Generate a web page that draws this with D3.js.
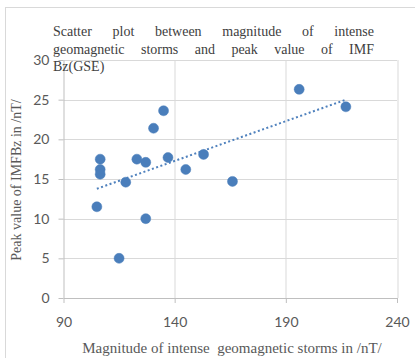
<!DOCTYPE html>
<html>
<head>
<meta charset="utf-8">
<script src="https://cdn.jsdelivr.net/npm/d3@7"></script>
<style>
  body { margin: 0; background: #fff; }
  svg { display: block; }
</style>
</head>
<body>
<div id="chart"></div>
<script>
// magnitude of storms (nT) and peak IMF Bz (nT)
const magnitude = [105, 106.5, 106.5, 106.5, 115, 118, 123, 127, 127, 130.5, 135, 137, 145, 153, 166, 196, 217];
const peakBz    = [11.5, 17.5, 16.2, 15.6, 5, 14.6, 17.5, 17.1, 10, 21.4, 23.6, 17.7, 16.2, 18.1, 14.7, 26.3, 24.1];
const xTicks = [90, 140, 190, 240];
const yTicks = [0, 5, 10, 15, 20, 25, 30];
const titleLines = [
  "Scatter plot between magnitude of intense",
  "geomagnetic storms and peak value of IMF",
  "Bz(GSE)"
];

const W = 415, H = 358;
const margin = { top: 60, left: 63.5 },
      width = 333.5,
      height = 238;

const svg = d3.select("#chart").append("svg")
  .attr("width", W).attr("height", H);

// chart frame
svg.append("rect")
  .attr("x", 5.5).attr("y", 7.5)
  .attr("width", W + 10).attr("height", H + 10)
  .attr("fill", "none").attr("stroke", "#d9d9d9");

const g = svg.append("g")
  .attr("transform", `translate(${margin.left},${margin.top})`);

const x = d3.scaleLinear().domain([90, 240]).range([0, width]);
const y = d3.scaleLinear().domain([0, 30]).range([height, 0]);

// gridlines
g.append("g").selectAll("line")
  .data(yTicks.slice(1))
  .join("line")
  .attr("x1", 0).attr("x2", width)
  .attr("y1", d => Math.round(y(d)) + 0.5).attr("y2", d => Math.round(y(d)) + 0.5)
  .attr("stroke", "#d9d9d9");

g.append("g").selectAll("line")
  .data(xTicks.slice(1))
  .join("line")
  .attr("y1", 0).attr("y2", height)
  .attr("x1", d => Math.round(x(d)) + 0.5).attr("x2", d => Math.round(x(d)) + 0.5)
  .attr("stroke", "#d9d9d9");

// axes
const xAxis = g.append("g")
  .attr("transform", `translate(0,${height})`)
  .call(d3.axisBottom(x).tickValues(xTicks).tickSize(5).tickPadding(14).tickSizeOuter(0));

const yAxis = g.append("g")
  .call(d3.axisLeft(y).tickValues(yTicks).tickSize(5).tickPadding(9).tickSizeOuter(0));

[xAxis, yAxis].forEach(a => {
  a.select(".domain").attr("stroke", "#bfbfbf");
  a.selectAll(".tick line").attr("stroke", "#bfbfbf");
  a.selectAll(".tick text")
    .attr("fill", "#595959")
    .style("font-family", "Lato, 'Noto Sans', sans-serif")
    .style("font-size", "14px");
});

// trendline (least squares)
const mx = d3.mean(magnitude), my = d3.mean(peakBz);
const slope = d3.sum(magnitude, (m, i) => (m - mx) * (peakBz[i] - my)) /
              d3.sum(magnitude, m => (m - mx) * (m - mx));
const intercept = my - slope * mx;
const xr = d3.extent(magnitude);

g.append("line")
  .attr("x1", x(xr[0])).attr("y1", y(intercept + slope * xr[0]))
  .attr("x2", x(xr[1])).attr("y2", y(intercept + slope * xr[1]))
  .attr("stroke", "#4f81bd")
  .attr("stroke-width", 2)
  .attr("stroke-dasharray", "2,2.5");

// points
g.selectAll("circle")
  .data(magnitude)
  .join("circle")
  .attr("cx", (d, i) => x(d))
  .attr("cy", (d, i) => y(peakBz[i]))
  .attr("r", 5)
  .attr("fill", "#4a7ebb")
  .attr("stroke", "#4a7ebb")
  .attr("stroke-width", 0.5);

// title, justified word by word like the original
const title = svg.append("g")
  .style("font-family", "'Liberation Serif', 'Times New Roman', serif")
  .style("font-size", "14px")
  .attr("fill", "#404040");

const tLeft = 53, tRight = 374;
titleLines.forEach((t, i) => {
  const ty = 36 + i * 17.5;
  const words = t.split(" ");
  if (i === titleLines.length - 1) {
    title.append("text").attr("x", tLeft).attr("y", ty).text(t);
    return;
  }
  const nodes = words.map(w => title.append("text").attr("y", ty).text(w));
  const widths = nodes.map(n => n.node().getComputedTextLength());
  const gap = (tRight - tLeft - d3.sum(widths)) / (words.length - 1);
  let cx = tLeft;
  nodes.forEach((n, k) => {
    n.attr("x", cx);
    cx += widths[k] + gap;
  });
});

// axis titles
svg.append("text")
  .attr("x", 232).attr("y", 353)
  .attr("text-anchor", "middle")
  .attr("fill", "#595959")
  .style("font-family", "'Liberation Serif', 'Times New Roman', serif")
  .style("font-size", "15px")
  .style("white-space", "pre")
  .text("Magnitude of intense  geomagnetic storms in /nT/");

svg.append("text")
  .attr("transform", "translate(21,180) rotate(-90)")
  .attr("text-anchor", "middle")
  .attr("fill", "#595959")
  .style("font-family", "'Liberation Serif', 'Times New Roman', serif")
  .style("font-size", "14px")
  .text("Peak value of IMFBz in /nT/");
</script>
</body>
</html>
